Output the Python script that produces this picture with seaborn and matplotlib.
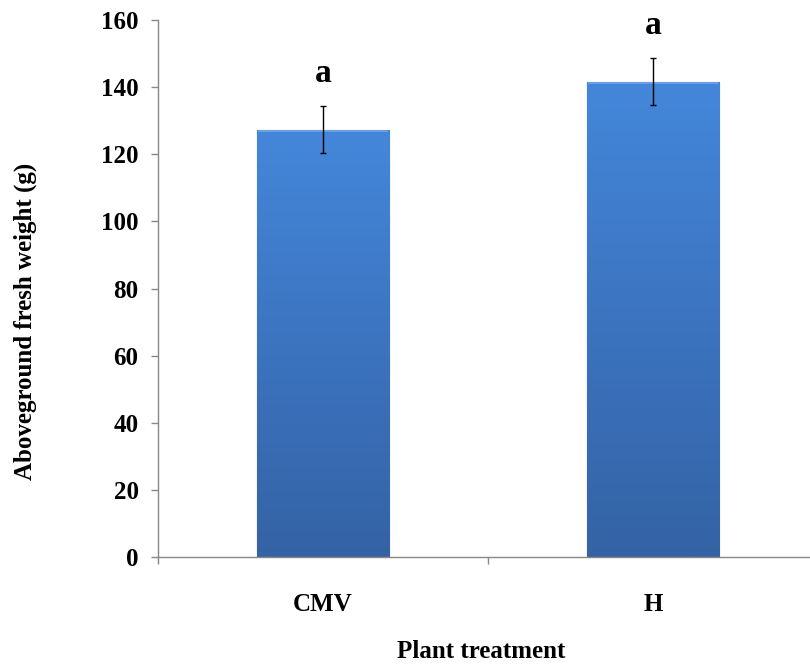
import numpy as np
import pandas as pd
import matplotlib
matplotlib.use("Agg")
import matplotlib.pyplot as plt
import seaborn as sns
from matplotlib.colors import LinearSegmentedColormap

# dane
treatments = ["CMV", "H"]
fresh_weight = [127.4, 141.7]
sem = [7.1, 7.1]
letters = ["a", "a"]

df = pd.DataFrame({"treatment": treatments, "weight": fresh_weight})

sns.set_theme(style="white")
plt.rcParams["font.family"] = ["Liberation Serif", "DejaVu Serif"]
plt.rcParams["font.weight"] = "bold"
plt.rcParams["text.color"] = "black"
plt.rcParams["xtick.color"] = "black"
plt.rcParams["ytick.color"] = "black"
plt.rcParams["axes.labelcolor"] = "black"

fig = plt.figure(figsize=(8.1, 6.71), dpi=100)
ax = fig.add_axes([0.195, 0.170, 0.815, 0.800])

sns.barplot(data=df, x="treatment", y="weight", color="#4385D9",
            width=0.40, errorbar=None, edgecolor="#2F5A94", linewidth=0.8, ax=ax)

# gradient na slupkach
cmap = LinearSegmentedColormap.from_list("bar", ["#3463A5", "#3C74C0", "#4487DA"])
grad = np.linspace(0, 1, 256).reshape(-1, 1)
for p in ax.patches:
    x0, y0 = p.get_x(), p.get_y()
    w, h = p.get_width(), p.get_height()
    im = ax.imshow(grad, cmap=cmap, aspect="auto", origin="lower",
                   extent=[x0, x0 + w, y0, y0 + h], zorder=p.get_zorder() + 0.1)
    im.set_clip_path(p)
    # jasniejszy pasek na gorze slupka
    ax.fill_between([x0 + w * 0.01, x0 + w * 0.99], y0 + h - 0.8, y0 + h,
                    color="#6A9FE3", zorder=p.get_zorder() + 0.2, linewidth=0)

# slupki bledow
ax.errorbar(x=range(len(treatments)), y=fresh_weight, yerr=sem, fmt="none",
            ecolor="black", elinewidth=1.0, capsize=2.5, capthick=1.0, zorder=5)

# litery istotnosci
for i, (m, s, l) in enumerate(zip(fresh_weight, sem, letters)):
    ax.text(i, m + s + 9.5, l, ha="center", va="center", fontsize=24,
            fontweight="bold", color="black")

ax.set_ylim(0, 160)
ax.set_xlim(-0.5, 1.5)
ax.set_yticks(range(0, 161, 20))
ax.set_xticks([0, 1])
ax.set_xticklabels(treatments)
ax.set_xticks([-0.5, 0.5, 1.5], minor=True)

for side in ["top", "right"]:
    ax.spines[side].set_visible(False)
for side in ["left", "bottom"]:
    ax.spines[side].set_color("#888888")
    ax.spines[side].set_linewidth(1.0)

ax.tick_params(axis="y", which="major", direction="out", length=5, width=1,
               color="#888888", left=True, labelsize=18, pad=9)
ax.tick_params(axis="x", which="major", length=0, labelsize=18, pad=26)
ax.tick_params(axis="x", which="minor", direction="out", length=5, width=1,
               color="#888888", bottom=True)

for lab in ax.get_xticklabels() + ax.get_yticklabels():
    lab.set_fontweight("bold")

ax.set_xlabel("Plant treatment", fontsize=18, fontweight="bold", va="center")
ax.set_ylabel("Aboveground fresh weight (g)", fontsize=18, fontweight="bold", va="center")
ax.xaxis.set_label_coords(0.49, -0.177)
ax.yaxis.set_label_coords(-0.201, 0.438)

fig.savefig("out.png", dpi=100)
